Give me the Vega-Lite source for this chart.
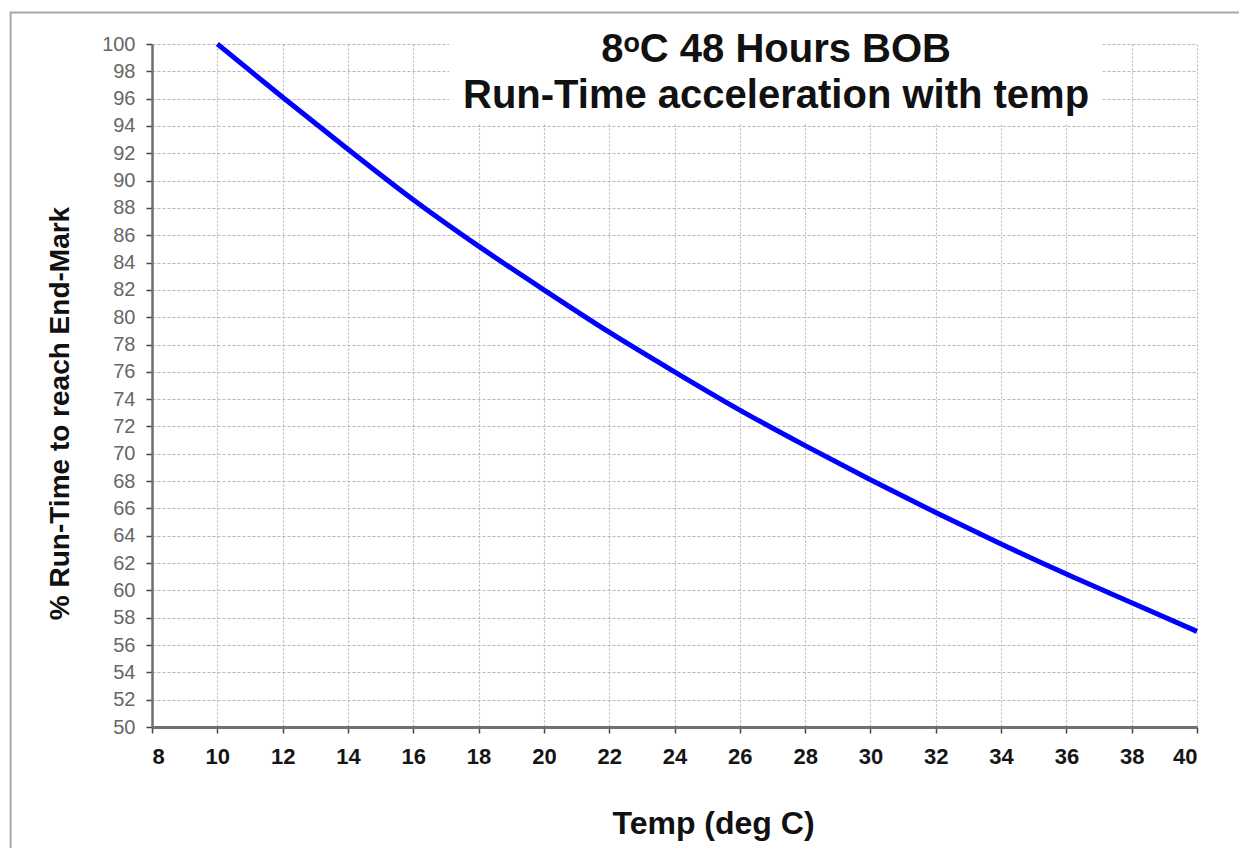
{
  "$schema": "https://vega.github.io/schema/vega-lite/v6.json",
  "width": 1045,
  "height": 683,
  "autosize": {"type": "none"},
  "padding": {"left": 152, "top": 44, "right": 42, "bottom": 121},
  "background": "white",
  "config": {
    "view": {"stroke": null},
    "font": "Liberation Sans",
    "axisX": {
      "titleFont": "Liberation Sans", "titleFontSize": 32, "titleFontWeight": "bold", "titleColor": "#111111",
      "titleX": 561, "titleY": 106, "titleAlign": "center", "titleBaseline": "alphabetic",
      "labelFont": "Liberation Sans", "labelFontSize": 22, "labelFontWeight": "bold", "labelColor": "#151515",
      "labelPadding": 13, "labelOverlap": false, "tickCount": 17,
      "domainColor": "#707070", "domainWidth": 3,
      "tickColor": "#444444", "tickSize": 6, "tickWidth": 1.5,
      "grid": true, "gridColor": "#b8b8b8", "gridDash": [2, 2], "gridWidth": 1.2
    },
    "axisY": {
      "titleFont": "Liberation Sans", "titleFontSize": 28, "titleFontWeight": "bold", "titleColor": "#111111",
      "titleX": -92, "titleY": 369, "titleAngle": -90, "titleAlign": "center", "titleBaseline": "middle",
      "labelFont": "Liberation Sans", "labelFontSize": 20, "labelColor": "#666666",
      "labelPadding": 11, "labelOverlap": false, "tickCount": 26,
      "domainColor": "#707070", "domainWidth": 2.5,
      "tickColor": "#444444", "tickSize": 6, "tickWidth": 1.5,
      "grid": true, "gridColor": "#b8b8b8", "gridDash": [3, 2], "gridWidth": 1.2
    }
  },
  "data": {"values": [
    {"temp": 10, "pct": 100},
    {"temp": 12, "pct": 96.1},
    {"temp": 14, "pct": 92.3},
    {"temp": 16, "pct": 88.6},
    {"temp": 18, "pct": 85.2},
    {"temp": 20, "pct": 82.0},
    {"temp": 22, "pct": 78.9},
    {"temp": 24, "pct": 76.0},
    {"temp": 26, "pct": 73.2},
    {"temp": 28, "pct": 70.6},
    {"temp": 30, "pct": 68.1},
    {"temp": 32, "pct": 65.7},
    {"temp": 34, "pct": 63.4},
    {"temp": 36, "pct": 61.2},
    {"temp": 38, "pct": 59.1},
    {"temp": 40, "pct": 57.0}
  ]},
  "layer": [
    {
      "mark": {"type": "line", "color": "#0000ff", "strokeWidth": 5, "interpolate": "monotone", "clip": false},
      "encoding": {
        "x": {"field": "temp", "type": "quantitative",
          "scale": {"domain": [8, 40], "nice": false, "zero": false},
          "axis": {"values": [8,10,12,14,16,18,20,22,24,26,28,30,32,34,36,38,40], "title": "Temp (deg C)", "labelOverlap": false}},
        "y": {"field": "pct", "type": "quantitative",
          "scale": {"domain": [50, 100], "nice": false, "zero": false},
          "axis": {"values": [50,52,54,56,58,60,62,64,66,68,70,72,74,76,78,80,82,84,86,88,90,92,94,96,98,100], "title": "% Run-Time to reach End-Mark", "labelOverlap": false}}
      }
    },
    {
      "data": {"values": [{}]},
      "mark": {"type": "rect", "fill": "white", "stroke": null},
      "encoding": {
        "x": {"datum": 17.1, "type": "quantitative", "scale": {"domain": [8, 40], "nice": false, "zero": false},
          "axis": {"values": [8,10,12,14,16,18,20,22,24,26,28,30,32,34,36,38,40], "title": "Temp (deg C)", "labelOverlap": false}},
        "x2": {"datum": 37.1},
        "y": {"datum": 94.25, "type": "quantitative", "scale": {"domain": [50, 100], "nice": false, "zero": false},
          "axis": {"values": [50,52,54,56,58,60,62,64,66,68,70,72,74,76,78,80,82,84,86,88,90,92,94,96,98,100], "title": "% Run-Time to reach End-Mark", "labelOverlap": false}},
        "y2": {"datum": 100.6}
      }
    },
    {
      "data": {"values": [{}]},
      "mark": {"type": "rect", "fillOpacity": 0, "stroke": "#a8a8a8", "strokeWidth": 2},
      "encoding": {
        "x": {"datum": 3.67, "type": "quantitative", "scale": {"domain": [8, 40], "nice": false, "zero": false},
          "axis": {"values": [8,10,12,14,16,18,20,22,24,26,28,30,32,34,36,38,40], "title": "Temp (deg C)", "labelOverlap": false}},
        "x2": {"datum": 42.5},
        "y": {"datum": 40, "type": "quantitative", "scale": {"domain": [50, 100], "nice": false, "zero": false},
          "axis": {"values": [50,52,54,56,58,60,62,64,66,68,70,72,74,76,78,80,82,84,86,88,90,92,94,96,98,100], "title": "% Run-Time to reach End-Mark", "labelOverlap": false}},
        "y2": {"datum": 102.31}
      }
    },
    {
      "data": {"values": [{}]},
      "mark": {"type": "text", "font": "Liberation Sans", "fontSize": 40, "fontWeight": "bold", "color": "#111111", "align": "center", "baseline": "alphabetic"},
      "encoding": {
        "x": {"datum": 27.11, "type": "quantitative", "scale": {"domain": [8, 40], "nice": false, "zero": false},
          "axis": {"values": [8,10,12,14,16,18,20,22,24,26,28,30,32,34,36,38,40], "title": "Temp (deg C)", "labelOverlap": false}},
        "y": {"datum": 98.68, "type": "quantitative", "scale": {"domain": [50, 100], "nice": false, "zero": false},
          "axis": {"values": [50,52,54,56,58,60,62,64,66,68,70,72,74,76,78,80,82,84,86,88,90,92,94,96,98,100], "title": "% Run-Time to reach End-Mark", "labelOverlap": false}},
        "text": {"value": "8ᵒC 48 Hours BOB"}
      }
    },
    {
      "data": {"values": [{}]},
      "mark": {"type": "text", "font": "Liberation Sans", "fontSize": 40, "fontWeight": "bold", "color": "#111111", "align": "center", "baseline": "alphabetic"},
      "encoding": {
        "x": {"datum": 27.11, "type": "quantitative", "scale": {"domain": [8, 40], "nice": false, "zero": false},
          "axis": {"values": [8,10,12,14,16,18,20,22,24,26,28,30,32,34,36,38,40], "title": "Temp (deg C)", "labelOverlap": false}},
        "y": {"datum": 95.31, "type": "quantitative", "scale": {"domain": [50, 100], "nice": false, "zero": false},
          "axis": {"values": [50,52,54,56,58,60,62,64,66,68,70,72,74,76,78,80,82,84,86,88,90,92,94,96,98,100], "title": "% Run-Time to reach End-Mark", "labelOverlap": false}},
        "text": {"value": "Run-Time acceleration  with temp"}
      }
    }
  ]
}
